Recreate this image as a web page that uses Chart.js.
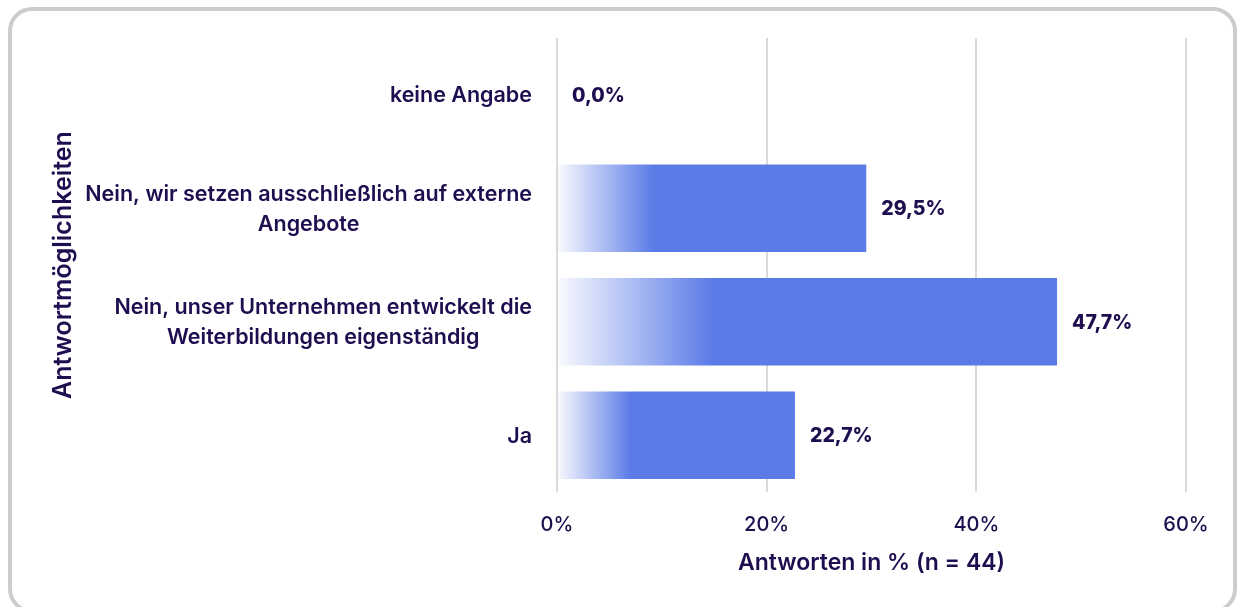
<!DOCTYPE html>
<html lang="de">
<head>
<meta charset="utf-8">
<title>Antwortmöglichkeiten</title>
<script src="https://cdn.jsdelivr.net/npm/chart.js@4.4.0/dist/chart.umd.min.js"></script>
<style>
    html, body { margin: 0; padding: 0; background: #ffffff; overflow: hidden; }
    #wrap { position: absolute; left: 0; top: 0; width: 1237px; height: 607px; overflow: hidden; }
    #frame {
        position: absolute; left: 8px; top: 7px; width: 1229px; height: 606px;
        border: 4px solid #cccccc; border-radius: 24px; box-sizing: border-box;
        pointer-events: none;
    }
</style>
</head>
<body>
<div id="wrap">
    <canvas id="chart" width="1237" height="607"></canvas>
    <div id="frame"></div>
</div>
<script>
const categories = [
    ['keine Angabe'],
    ['Nein, wir setzen ausschließlich auf externe', 'Angebote'],
    ['Nein, unser Unternehmen entwickelt die', 'Weiterbildungen eigenständig'],
    ['Ja']
];
const shares = [0.0, 29.5, 47.7, 22.7];
const xTicks = [0, 20, 40, 60];

const ink = '#1e0e4f';
const barBlue = [91, 123, 231];
const fontFamily = 'Inter, "Noto Sans", sans-serif';

// bars fade in from white over the first ~31% of their length
function barGradient(context) {
    const solid = 'rgb(' + barBlue.join(',') + ')';
    const chart = context.chart;
    const xs = chart.scales.x;
    if (!xs || !context.parsed) return solid;
    const x0 = xs.getPixelForValue(0);
    const x1 = xs.getPixelForValue(context.parsed.x);
    if (!isFinite(x0) || !isFinite(x1)) return solid;
    const fadeEnd = x0 + Math.max(1, (x1 - x0) * 0.31);
    const g = chart.ctx.createLinearGradient(x0, 0, fadeEnd, 0);
    g.addColorStop(0, 'rgba(' + barBlue.join(',') + ',0.03)');
    g.addColorStop(1, solid);
    return g;
}

// y labels: block right-aligned, lines centred on each other
const categoryLabels = {
    id: 'categoryLabels',
    afterDraw(chart) {
        const ys = chart.scales.y;
        const ctx = chart.ctx;
        const right = 532;
        const lineH = 30;
        ctx.save();
        ctx.font = '600 21.5px ' + fontFamily;
        ctx.fillStyle = ink;
        ctx.textAlign = 'center';
        ctx.textBaseline = 'middle';
        categories.forEach((lines, i) => {
            const cy = ys.getPixelForTick(i) + 1;
            const w = Math.max(...lines.map(l => ctx.measureText(l).width));
            const cx = right - w / 2;
            const y0 = cy - (lines.length - 1) * lineH / 2;
            lines.forEach((l, j) => ctx.fillText(l, cx, y0 + j * lineH));
        });
        ctx.restore();
    }
};

const valueLabels = {
    id: 'valueLabels',
    afterDatasetsDraw(chart) {
        const ctx = chart.ctx;
        const meta = chart.getDatasetMeta(0);
        ctx.save();
        ctx.font = '800 19.5px ' + fontFamily;
        ctx.fillStyle = ink;
        ctx.textAlign = 'left';
        ctx.textBaseline = 'middle';
        meta.data.forEach((bar, i) => {
            const txt = shares[i].toFixed(1).replace('.', ',') + '%';
            ctx.fillText(txt, bar.x + 15, bar.y + 1);
        });
        ctx.restore();
    }
};

new Chart(document.getElementById('chart'), {
    type: 'bar',
    data: {
        labels: categories,
        datasets: [{
            data: shares,
            backgroundColor: barGradient,
            borderWidth: 0,
            barPercentage: 1,
            categoryPercentage: 0.77
        }]
    },
    options: {
        indexAxis: 'y',
        responsive: false,
        animation: false,
        devicePixelRatio: 1,
        layout: { padding: { top: 38, right: 51, bottom: 0, left: 0 } },
        plugins: {
            legend: { display: false },
            tooltip: { enabled: false }
        },
        scales: {
            x: {
                min: 0,
                max: 60,
                afterBuildTicks: (scale) => { scale.ticks = xTicks.map(v => ({ value: v })); },
                afterFit: (scale) => { scale.height = 607 - 492; },
                border: { display: false },
                grid: { color: '#dadada', lineWidth: 2, drawTicks: false },
                ticks: {
                    color: ink,
                    padding: 21,
                    font: { family: fontFamily, size: 20, weight: '500' },
                    callback: (v) => v + '%'
                },
                title: {
                    display: true,
                    text: 'Antworten in % (n = 44)',
                    color: ink,
                    font: { family: fontFamily, size: 23, weight: '600' },
                    padding: { top: 0, bottom: 30 }
                }
            },
            y: {
                afterFit: (scale) => { scale.width = 557; },
                border: { display: false },
                grid: { display: false },
                ticks: { display: false },
                title: {
                    display: true,
                    text: 'Antwortmöglichkeiten',
                    color: ink,
                    font: { family: fontFamily, size: 25, weight: '600' },
                    padding: { top: 48, bottom: 0 }
                }
            }
        }
    },
    plugins: [categoryLabels, valueLabels]
});
</script>
</body>
</html>
